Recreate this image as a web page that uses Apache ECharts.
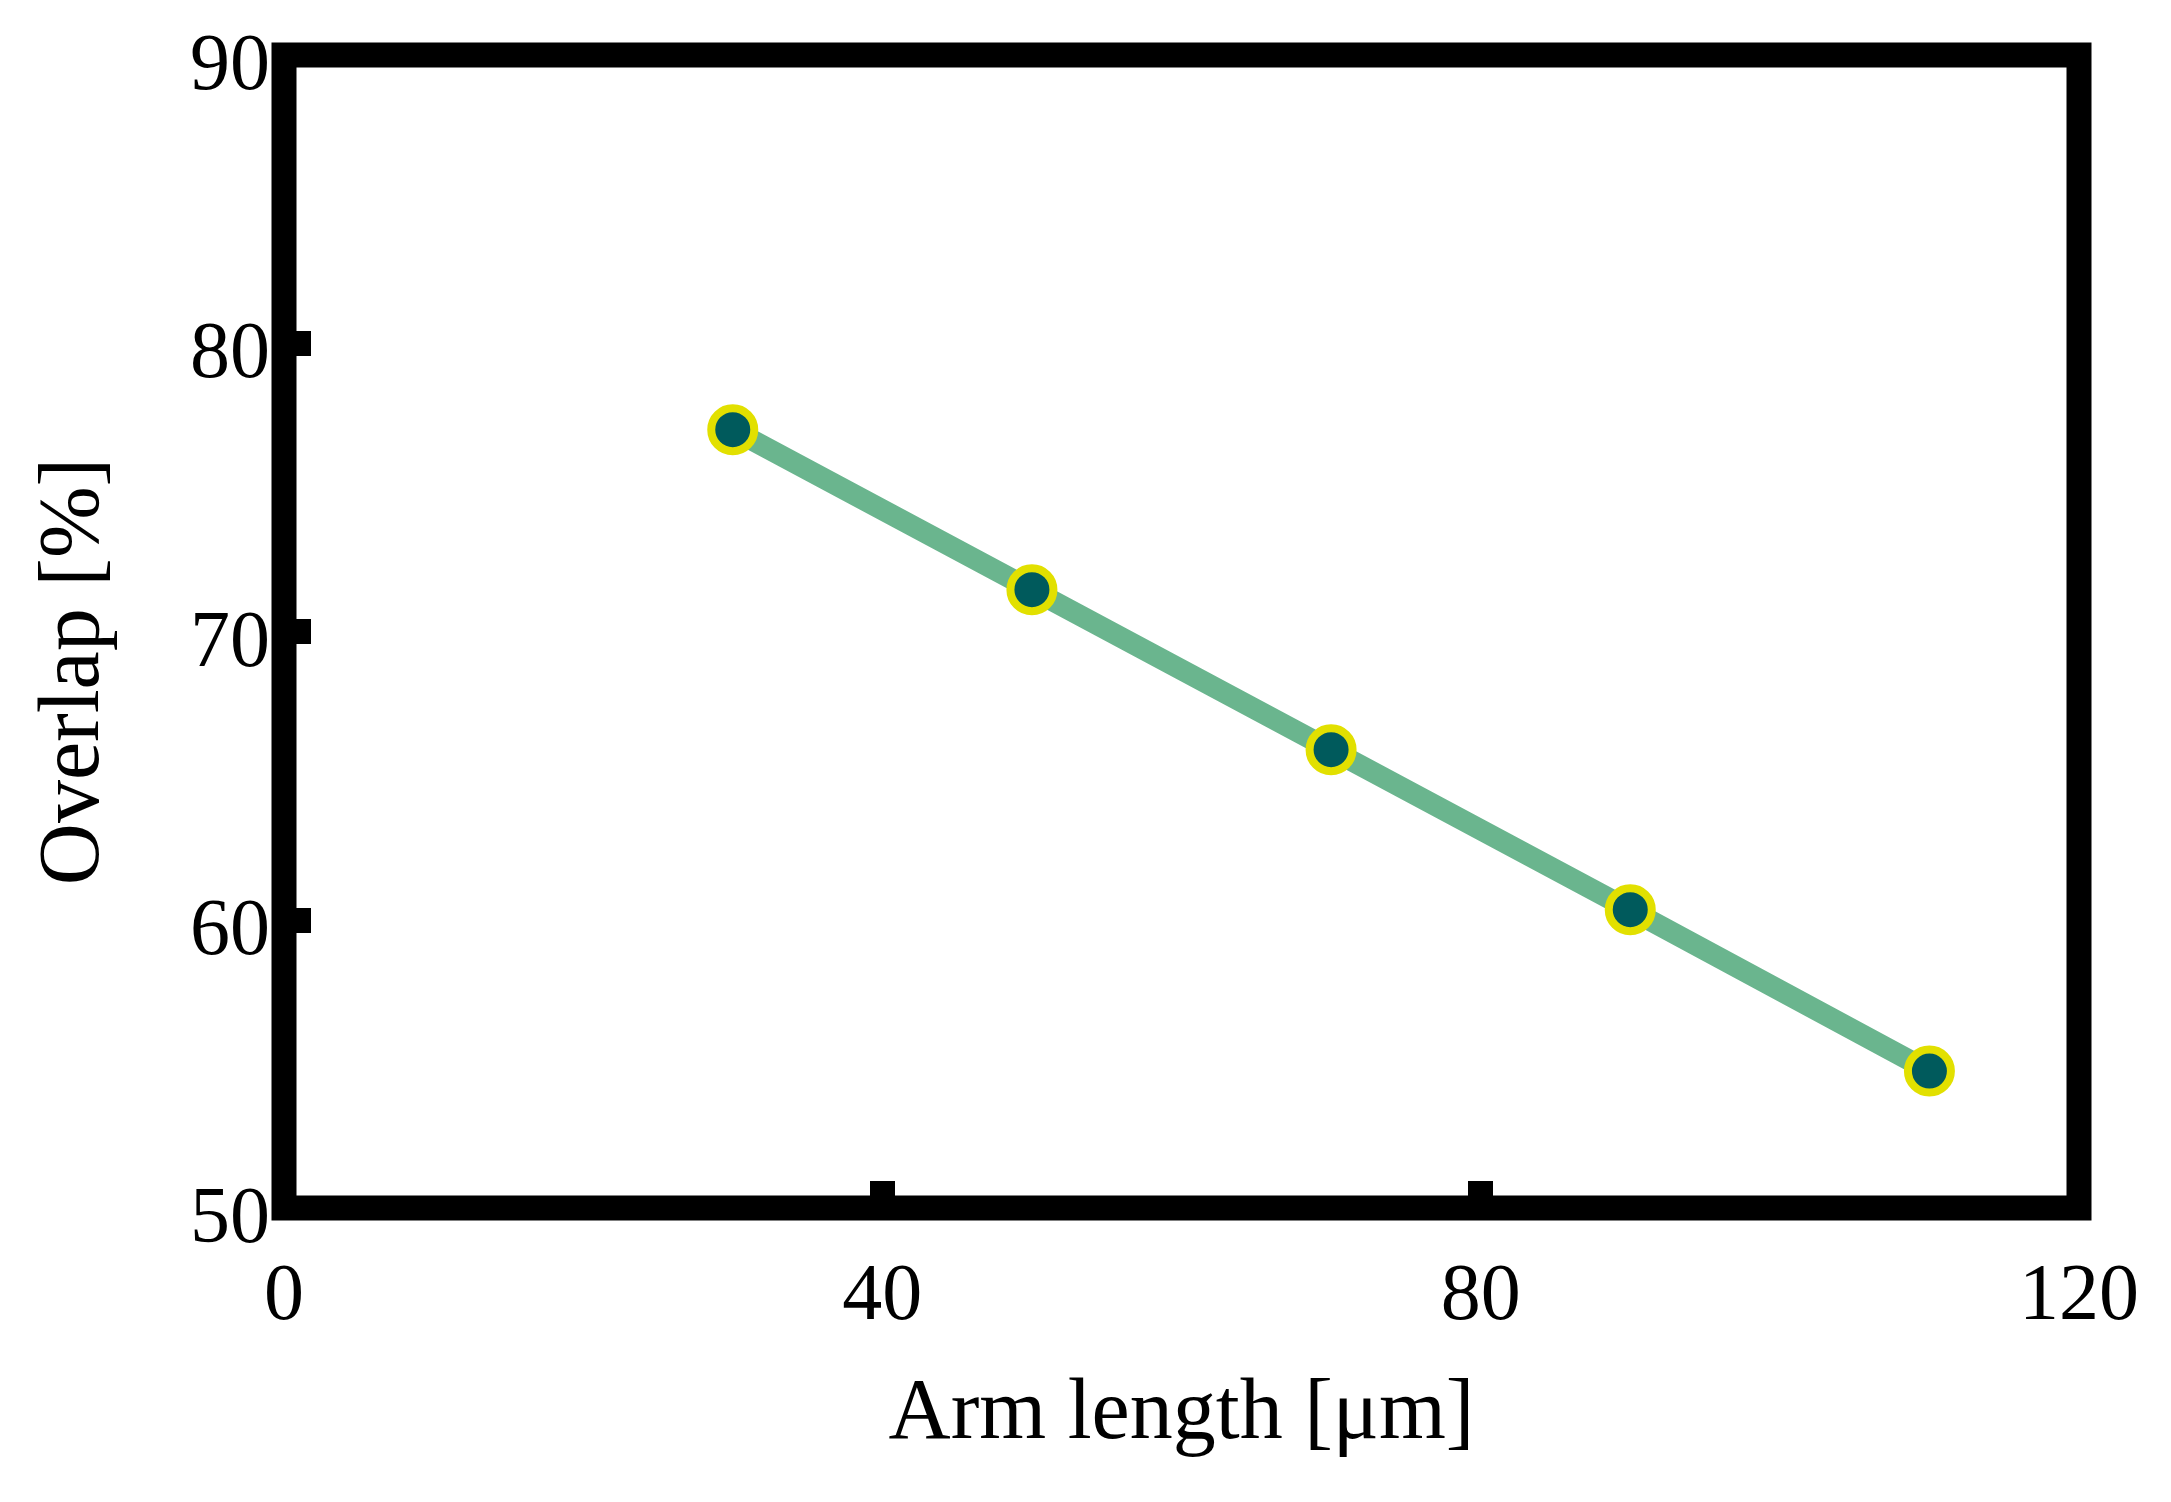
<!DOCTYPE html>
<html>
<head>
<meta charset="utf-8">
<script src="https://cdn.jsdelivr.net/npm/echarts@6/dist/echarts.min.js"></script>
<style>
  html, body { margin: 0; padding: 0; background: #fff; }
  #chart { width: 2171px; height: 1502px; }
</style>
</head>
<body>
<div id="chart"></div>
<script>
// data
const armLength = [30, 50, 70, 90, 110];
const overlap = [77.0, 71.45, 65.9, 60.35, 54.75];
const xTicks = [0, 40, 80, 120];
const yTicks = [50, 60, 70, 80, 90];

const font = "'Liberation Serif', 'DejaVu Serif', serif";

let chart = echarts.init(document.getElementById("chart"));

const option = {
  backgroundColor: "#fff",
  animation: false,
  grid: {
    left: 284,
    right: 92,
    top: 55,
    bottom: 294,
    show: true,
    borderColor: "#000",
    borderWidth: 25
  },
  xAxis: {
    type: "value",
    min: xTicks[0],
    max: xTicks[xTicks.length - 1],
    interval: 40,
    name: "Arm length [μm]",
    nameLocation: "middle",
    nameGap: 164,
    nameTextStyle: { fontFamily: font, fontSize: 86, color: "#000" },
    axisLine: { show: false },
    // only the inner ticks show; the ends sit on the frame
    axisTick: { show: true, inside: true, length: 27, customValues: xTicks.slice(1, -1), lineStyle: { color: "#000", width: 25 } },
    axisLabel: { margin: 50, fontFamily: font, fontSize: 80, color: "#000" },
    splitLine: { show: false }
  },
  yAxis: {
    type: "value",
    min: yTicks[0],
    max: yTicks[yTicks.length - 1],
    interval: 10,
    name: "Overlap [%]",
    nameLocation: "middle",
    nameGap: 166,
    nameTextStyle: { fontFamily: font, fontSize: 86, color: "#000", padding: [0, 80, 0, 0] },
    axisLine: { show: false },
    axisTick: { show: true, inside: true, length: 27, customValues: yTicks.slice(1, -1), lineStyle: { color: "#000", width: 25 } },
    axisLabel: {
      margin: 14,
      formatter: "{v|{value}}",
      rich: { v: { fontFamily: font, fontSize: 80, color: "#000", padding: [26, 0, 0, 0] } }
    },
    splitLine: { show: false }
  },
  series: [
    {
      type: "line",
      data: armLength.map((x, i) => [x, overlap[i]]),
      lineStyle: { color: "#6ab58e", width: 21 },
      symbol: "circle",
      symbolSize: 43,
      itemStyle: { color: "#005a5c", borderColor: "#e2e000", borderWidth: 8 },
      z: 5
    }
  ]
};

chart.setOption(option);
</script>
</body>
</html>
